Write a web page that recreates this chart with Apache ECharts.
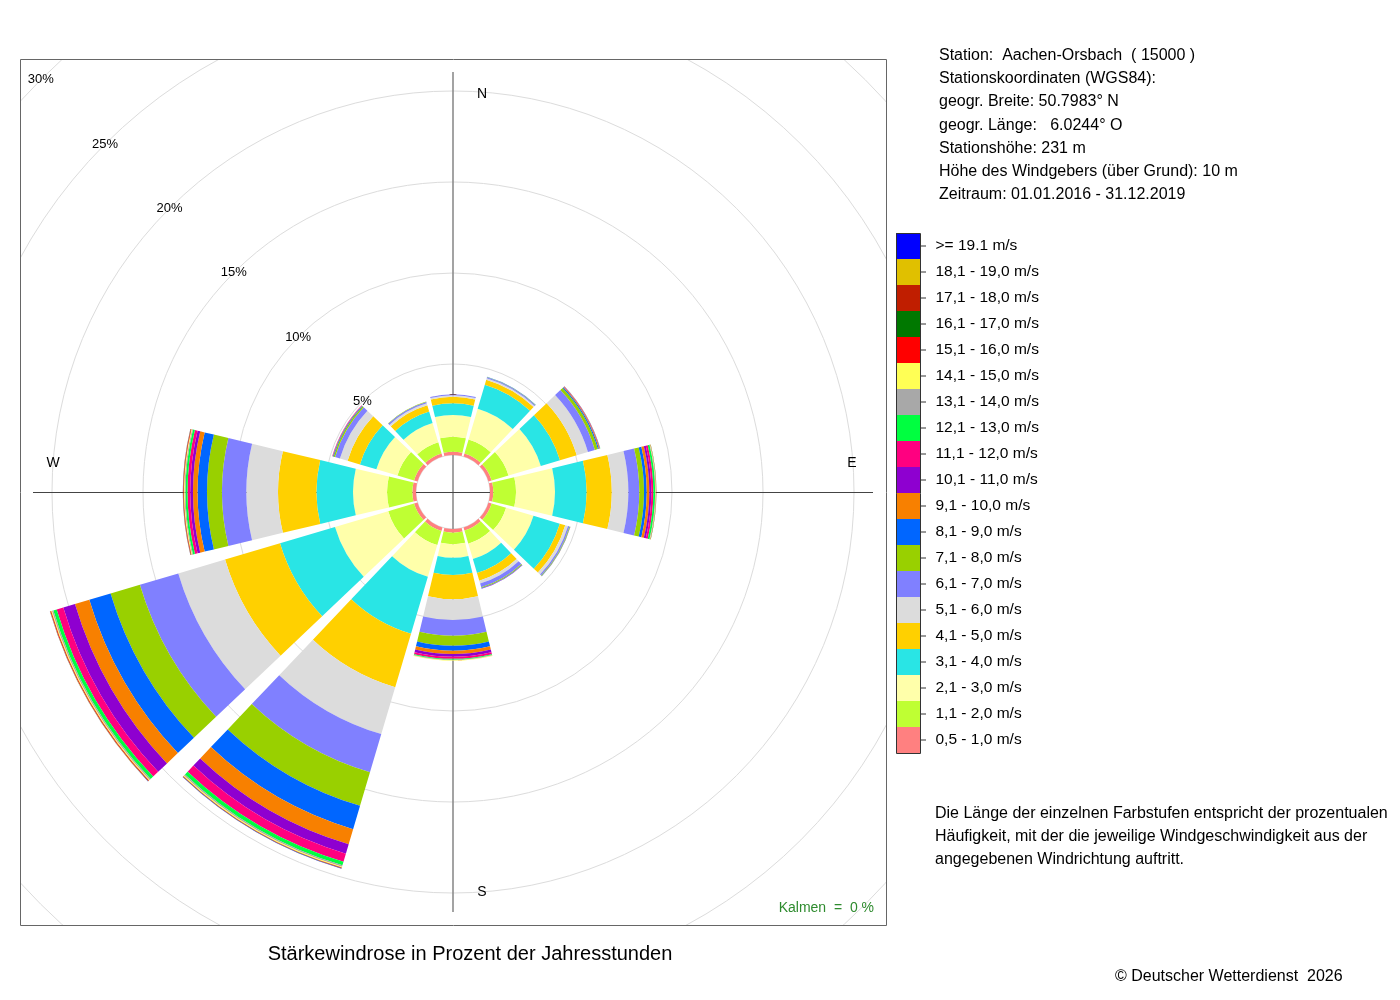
<!DOCTYPE html>
<html>
<head>
<meta charset="utf-8">
<title>Stärkewindrose Aachen-Orsbach</title>
<script src="https://cdn.jsdelivr.net/npm/echarts@6/dist/echarts.min.js"></script>
<style>
  html, body { margin: 0; padding: 0; background: #fff; }
  #main { width: 1400px; height: 1000px; }
</style>
</head>
<body>
<div id="main"></div>
<script>
// sectors, clockwise from north (30 degree each)
const directions = ["N", "30°", "60°", "E", "120°", "150°", "S", "210°", "240°", "W", "300°", "330°"];

// speed classes, from inside to outside
const speedClasses = [
    "0,5 - 1,0 m/s", "1,1 - 2,0 m/s", "2,1 - 3,0 m/s", "3,1 - 4,0 m/s", "4,1 - 5,0 m/s",
    "5,1 - 6,0 m/s", "6,1 - 7,0 m/s", "7,1 - 8,0 m/s", "8,1 - 9,0 m/s", "9,1 - 10,0 m/s",
    "10,1 - 11,0 m/s", "11,1 - 12,0 m/s", "12,1 - 13,0 m/s", "13,1 - 14,0 m/s", "14,1 - 15,0 m/s",
    "15,1 - 16,0 m/s", "16,1 - 17,0 m/s", "17,1 - 18,0 m/s", "18,1 - 19,0 m/s", ">= 19.1 m/s"
];
const classColors = [
    "#FF8080", "#BFFF33", "#FFFFAA", "#29E5E5", "#FFD000",
    "#DCDCDC", "#8080FF", "#99D000", "#0066FF", "#F88000",
    "#8E00D0", "#FF0080", "#00FF40", "#A8A8A8", "#FFFF55",
    "#FF0000", "#007800", "#C01E00", "#E0C000", "#0000FF"
];

// percent of hours per speed class (same order as speedClasses)
const dir000 = [0.18, 0.82, 1.20, 0.64, 0.36, 0.08, 0.05, 0.01, 0, 0, 0, 0, 0, 0, 0, 0, 0, 0, 0, 0];
const dir030 = [0.18, 0.80, 1.76, 1.38, 0.28, 0.08, 0.06, 0.02, 0.01, 0, 0, 0, 0, 0, 0, 0, 0, 0, 0, 0];
const dir060 = [0.18, 0.97, 1.85, 1.10, 0.96, 0.64, 0.40, 0.17, 0.06, 0.04, 0.02, 0.01, 0.01, 0, 0, 0, 0, 0, 0, 0];
const dir090 = [0.18, 1.25, 2.14, 1.74, 1.38, 0.91, 0.60, 0.26, 0.15, 0.14, 0.11, 0.11, 0.10, 0.03, 0.02, 0.01, 0.01, 0, 0, 0];
const dir120 = [0.18, 0.83, 1.57, 1.51, 0.31, 0.16, 0.08, 0.03, 0.02, 0.01, 0, 0, 0, 0, 0, 0, 0, 0, 0, 0];
const dir150 = [0.18, 0.75, 0.88, 0.80, 0.44, 0.16, 0.22, 0.04, 0.02, 0.01, 0.01, 0, 0, 0, 0, 0, 0, 0, 0, 0];
const dir180 = [0.20, 0.64, 0.74, 0.95, 1.33, 1.14, 0.86, 0.55, 0.28, 0.18, 0.15, 0.11, 0.05, 0.03, 0.02, 0.01, 0, 0, 0, 0];
const dir210 = [0.20, 0.81, 1.82, 3.26, 3.06, 2.69, 2.19, 1.92, 1.34, 0.86, 0.54, 0.46, 0.21, 0.08, 0.05, 0.03, 0.01, 0.01, 0.005, 0.005];
const dir240 = [0.20, 1.48, 3.05, 3.15, 3.15, 2.68, 2.20, 1.68, 1.22, 0.82, 0.67, 0.38, 0.19, 0.08, 0.05, 0.04, 0.01, 0.01, 0.005, 0.005];
const dir270 = [0.20, 1.39, 1.87, 2.01, 2.11, 1.74, 1.34, 0.82, 0.52, 0.25, 0.15, 0.15, 0.11, 0.05, 0.04, 0.03, 0.01, 0.01, 0.005, 0.005];
const dir300 = [0.20, 0.95, 1.21, 0.94, 0.71, 0.44, 0.28, 0.08, 0.04, 0.02, 0.01, 0.01, 0, 0, 0, 0, 0, 0, 0, 0];
const dir330 = [0.18, 0.64, 1.10, 0.66, 0.36, 0.11, 0.08, 0.02, 0.01, 0, 0, 0, 0, 0, 0, 0, 0, 0, 0, 0];

const sectors = [dir000, dir030, dir060, dir090, dir120, dir150, dir180, dir210, dir240, dir270, dir300, dir330];

const radiusMax = 30;
const radiusStep = 5;
const compassLabels = ["N", "E", "S", "W"];

const infoLines = [
    "Station:  Aachen-Orsbach  ( 15000 )",
    "Stationskoordinaten (WGS84):",
    "geogr. Breite: 50.7983° N",
    "geogr. Länge:   6.0244° O",
    "Stationshöhe: 231 m",
    "Höhe des Windgebers (über Grund): 10 m",
    "Zeitraum: 01.01.2016 - 31.12.2019"
];
const noteLines = [
    "Die Länge der einzelnen Farbstufen entspricht der prozentualen",
    "Häufigkeit, mit der die jeweilige Windgeschwindigkeit aus der",
    "angegebenen Windrichtung auftritt."
];
const calmText = "Kalmen  =  0 %";
const captionText = "Stärkewindrose in Prozent der Jahresstunden";
const copyrightText = "© Deutscher Wetterdienst  2026";

// layout
const font = "'Liberation Sans', Arial, Helvetica, sans-serif";
const cx = 453, cy = 492;
const innerR = 37, outerR = 583;
const box = { x: 20, y: 59, w: 866, h: 866 };
const axisLen = 420;

let chartDom = document.getElementById("main");
let myChart = echarts.init(chartDom);

let series = speedClasses.map((name, k) => ({
    type: "bar",
    name: name,
    coordinateSystem: "polar",
    polarIndex: 0,
    stack: "rose",
    barCategoryGap: "10%",
    silent: true,
    itemStyle: { color: classColors[k] },
    data: sectors.map((s) => s[k]),
}));

let graphics = [];

// N-S / E-W lines under the bars
graphics.push({
    type: "line", z: 1, silent: true,
    shape: { x1: cx, y1: cy - axisLen, x2: cx, y2: cy + axisLen },
    style: { stroke: "#8c8c8c", lineWidth: 1.6 },
});
graphics.push({
    type: "line", z: 1, silent: true,
    shape: { x1: cx - axisLen, y1: cy + 0.5, x2: cx + axisLen, y2: cy + 0.5 },
    style: { stroke: "#444", lineWidth: 1 },
});

// white masks so the rings stop at the frame
[
    [0, 0, 1400, box.y],
    [0, 0, box.x, 1000],
    [0, box.y + box.h, 1400, 1000 - box.y - box.h],
    [box.x + box.w, 0, 1400 - box.x - box.w, 1000],
].forEach((m) => {
    graphics.push({
        type: "rect", z: 10, silent: true,
        shape: { x: m[0], y: m[1], width: m[2], height: m[3] },
        style: { fill: "#fff" },
    });
});
graphics.push({
    type: "rect", z: 11, silent: true,
    shape: { x: box.x + 0.5, y: box.y + 0.5, width: box.w, height: box.h },
    style: { fill: "none", stroke: "#666", lineWidth: 1 },
});

// compass letters
let compassPos = [
    [cx + 29, cy - 398], [cx + 399, cy - 29], [cx + 29, cy + 400], [cx - 400, cy - 29],
];
compassLabels.forEach((t, i) => {
    graphics.push({
        type: "text", z: 11, silent: true,
        x: compassPos[i][0], y: compassPos[i][1],
        style: { text: t, font: "14px " + font, fill: "#000", align: "center", verticalAlign: "middle" },
    });
});

graphics.push({
    type: "text", z: 11, silent: true, x: 874, y: 908,
    style: { text: calmText, font: "14px " + font, fill: "#2e8b2e", align: "right", verticalAlign: "middle" },
});
graphics.push({
    type: "text", z: 11, silent: true, x: 470, y: 954,
    style: { text: captionText, font: "20px " + font, fill: "#000", align: "center", verticalAlign: "middle" },
});
graphics.push({
    type: "text", z: 11, silent: true, x: 1115, y: 977,
    style: { text: copyrightText, font: "16px " + font, fill: "#000", align: "left", verticalAlign: "middle" },
});

infoLines.forEach((t, i) => {
    graphics.push({
        type: "text", z: 11, silent: true, x: 939, y: 55.5 + i * 23.2,
        style: { text: t, font: "16px " + font, fill: "#000", align: "left", verticalAlign: "middle" },
    });
});
noteLines.forEach((t, i) => {
    graphics.push({
        type: "text", z: 11, silent: true, x: 935, y: 814 + i * 23,
        style: { text: t, font: "16px " + font, fill: "#000", align: "left", verticalAlign: "middle" },
    });
});

// colour legend, fastest class on top
const legX = 896, legY = 233, legW = 24, legH = 26;
for (let i = 0; i < speedClasses.length; i++) {
    let k = speedClasses.length - 1 - i;
    let y = legY + i * legH;
    graphics.push({
        type: "rect", z: 11, silent: true,
        shape: { x: legX, y: y, width: legW, height: legH },
        style: { fill: classColors[k] },
    });
    graphics.push({
        type: "line", z: 11, silent: true,
        shape: { x1: legX + legW, y1: y + legH / 2, x2: legX + legW + 6, y2: y + legH / 2 },
        style: { stroke: "#333", lineWidth: 1 },
    });
    graphics.push({
        type: "text", z: 11, silent: true, x: 935.5, y: y + legH / 2,
        style: { text: speedClasses[k], font: "15.5px " + font, fill: "#000", align: "left", verticalAlign: "middle" },
    });
}
graphics.push({
    type: "rect", z: 12, silent: true,
    shape: { x: legX + 0.5, y: legY + 0.5, width: legW, height: legH * speedClasses.length },
    style: { fill: "none", stroke: "#333", lineWidth: 1 },
});

let option = {
    animation: false,
    backgroundColor: "#fff",
    polar: [
        { center: [cx, cy], radius: [innerR, outerR] },
        { center: [cx, cy], radius: [innerR, outerR] },
    ],
    angleAxis: [
        {
            polarIndex: 0,
            type: "category",
            data: directions,
            startAngle: 105,
            clockwise: true,
            axisLine: { show: false },
            axisTick: { show: false },
            axisLabel: { show: false },
            splitLine: { show: false },
        },
        {
            polarIndex: 1,
            type: "value",
            min: 0,
            max: 360,
            startAngle: 135,
            axisLine: { show: false },
            axisTick: { show: false },
            axisLabel: { show: false },
            splitLine: { show: false },
        },
    ],
    radiusAxis: [
        {
            // rings, drawn under the bars
            polarIndex: 0,
            type: "value",
            min: 0,
            max: radiusMax,
            interval: radiusStep,
            axisLine: { show: false },
            axisTick: { show: false },
            axisLabel: { show: false },
            splitLine: { show: true, lineStyle: { color: "#dcdcdc", width: 1 } },
        },
        {
            // ring labels on the NW diagonal, on top
            polarIndex: 1,
            type: "value",
            min: 0,
            max: radiusMax,
            interval: radiusStep,
            z: 5,
            axisLine: { show: false },
            axisTick: { show: false },
            splitLine: { show: false },
            axisLabel: {
                show: true,
                showMinLabel: false,
                margin: 0,
                align: "center",
                verticalAlign: "middle",
                fontFamily: font,
                fontSize: 13,
                color: "#000",
                formatter: (v) => v + "%",
            },
        },
    ],
    series: series,
    graphic: { elements: graphics },
};

myChart.setOption(option);
</script>
</body>
</html>
